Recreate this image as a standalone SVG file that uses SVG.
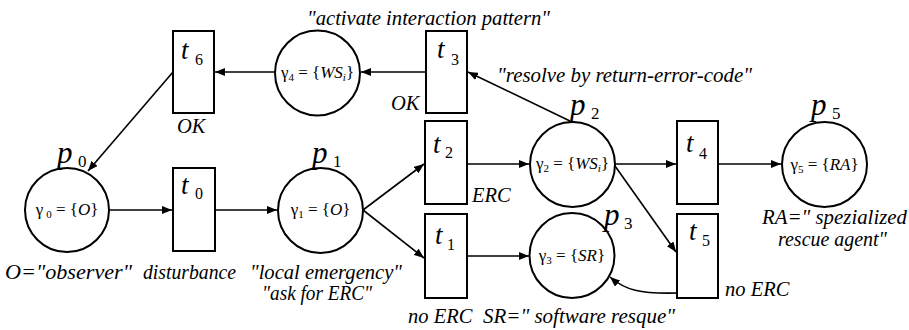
<svg xmlns="http://www.w3.org/2000/svg" width="909" height="330" viewBox="0 0 909 330">
<style>
.n{fill:#fff;stroke:#000;stroke-width:2}
.c line,.c path{stroke:#000;stroke-width:1.6;fill:none}
text{font-family:"Liberation Serif","Tinos","DejaVu Serif","Noto Serif",serif;fill:#000}
.lb{font-size:20.5px;font-style:italic}
.tl{font-size:27px;font-style:italic}
.ts{font-size:16px}
.pl{font-size:31px;font-style:italic}
.ps{font-size:17px}
.g{font-size:17px}
.gs{font-size:11px}
.i{font-style:italic}
</style>
<defs>
<marker id="ah" viewBox="0 0 10 8" refX="10" refY="4" markerWidth="10" markerHeight="8" markerUnits="userSpaceOnUse" orient="auto">
<path d="M0,0 L10,4 L0,8 Z" fill="#000"/>
</marker>
</defs>

<g class="c" id="connectors">
<line x1="426" y1="72" x2="361" y2="72" marker-end="url(#ah)"/>
<line x1="275" y1="72" x2="215" y2="72" marker-end="url(#ah)"/>
<line x1="173" y1="72" x2="88" y2="171" marker-end="url(#ah)"/>
<line x1="109" y1="210" x2="172" y2="210" marker-end="url(#ah)"/>
<line x1="215" y1="210" x2="277" y2="210" marker-end="url(#ah)"/>
<line x1="363" y1="210" x2="424" y2="164" marker-end="url(#ah)"/>
<line x1="363" y1="210" x2="424" y2="258" marker-end="url(#ah)"/>
<line x1="467" y1="164" x2="529" y2="164" marker-end="url(#ah)"/>
<line x1="570" y1="121" x2="468" y2="72" marker-end="url(#ah)"/>
<line x1="615" y1="164" x2="676" y2="164" marker-end="url(#ah)"/>
<line x1="718" y1="164" x2="781" y2="164" marker-end="url(#ah)"/>
<line x1="467" y1="256" x2="529" y2="256" marker-end="url(#ah)"/>
<line x1="615" y1="166" x2="676" y2="252" marker-end="url(#ah)"/>
<path d="M677,293 C640,294 625,290 610,277" marker-end="url(#ah)"/>
</g>

<g id="p0">
<circle class="n" cx="67" cy="210" r="42"/>
<text class="g" x="67" y="215" text-anchor="middle">γ<tspan class="gs" dx="3" dy="3">0</tspan><tspan dy="-3"> = {</tspan><tspan class="i">O</tspan>}</text>
<text class="pl" x="57" y="163">p</text><text class="ps" x="78" y="167">0</text>
<text class="lb" x="5" y="279" textLength="127" lengthAdjust="spacingAndGlyphs">O="observer"</text>
</g>

<g id="t0">
<rect class="n" x="173" y="168" width="42" height="83"/>
<text class="tl" x="181" y="194">t</text><text class="ts" x="195" y="199">0</text>
<text class="lb" x="143" y="279" textLength="93" lengthAdjust="spacingAndGlyphs">disturbance</text>
</g>

<g id="p1">
<circle class="n" cx="320.5" cy="210.5" r="42.5"/>
<text class="g" x="320.5" y="215" text-anchor="middle">γ<tspan class="gs" dy="3">1</tspan><tspan dy="-3"> = {</tspan><tspan class="i">O</tspan>}</text>
<text class="pl" x="312" y="163">p</text><text class="ps" x="333" y="167">1</text>
<text class="lb" x="250" y="279" textLength="152" lengthAdjust="spacingAndGlyphs">"local emergency"</text>
<text class="lb" x="262" y="300" textLength="110" lengthAdjust="spacingAndGlyphs">"ask for ERC"</text>
</g>

<g id="t6">
<rect class="n" x="173" y="31" width="41" height="82"/>
<text class="tl" x="181" y="59">t</text><text class="ts" x="195" y="65">6</text>
<text class="lb" x="177" y="133">OK</text>
</g>

<g id="p4">
<circle class="n" cx="317.5" cy="73" r="42.5"/>
<text class="g" x="317.5" y="78" text-anchor="middle">γ<tspan class="gs" dy="3">4</tspan><tspan dy="-3"> = {</tspan><tspan class="i">WS</tspan><tspan class="gs i" dy="3">i</tspan><tspan dy="-3">}</tspan></text>
<text class="lb" x="307" y="25" textLength="243" lengthAdjust="spacingAndGlyphs">"activate interaction pattern"</text>
</g>

<g id="t3">
<rect class="n" x="426" y="31" width="41" height="82"/>
<text class="tl" x="437" y="58">t</text><text class="ts" x="451" y="65">3</text>
<text class="lb" x="391" y="110">OK</text>
</g>

<g id="t2">
<rect class="n" x="425" y="121" width="42" height="83"/>
<text class="tl" x="433" y="153">t</text><text class="ts" x="445" y="158">2</text>
<text class="lb" x="472" y="202">ERC</text>
</g>

<g id="t1">
<rect class="n" x="425" y="214" width="42" height="84"/>
<text class="tl" x="435" y="244">t</text><text class="ts" x="447" y="250">1</text>
<text class="lb" x="408" y="323">no ERC</text>
</g>

<g id="p2">
<circle class="n" cx="572.5" cy="164.5" r="42.5"/>
<text class="g" x="572.5" y="169" text-anchor="middle">γ<tspan class="gs" dy="3">2</tspan><tspan dy="-3"> = {</tspan><tspan class="i">WS</tspan><tspan class="gs i" dy="3">i</tspan><tspan dy="-3">}</tspan></text>
<text class="pl" x="570" y="115">p</text><text class="ps" x="591" y="119">2</text>
<text class="lb" x="497" y="82" textLength="255" lengthAdjust="spacingAndGlyphs">"resolve by return-error-code"</text>
</g>

<g id="p3">
<circle class="n" cx="572" cy="255.5" r="42.5"/>
<text class="g" x="572" y="261" text-anchor="middle">γ<tspan class="gs" dy="3">3</tspan><tspan dy="-3"> = {</tspan><tspan class="i">SR</tspan>}</text>
<text class="pl" x="604" y="225">p</text><text class="ps" x="624" y="229">3</text>
<text class="lb" x="483" y="323" textLength="192" lengthAdjust="spacingAndGlyphs">SR=" software resque"</text>
</g>

<g id="t4">
<rect class="n" x="677" y="121" width="41" height="83"/>
<text class="tl" x="686" y="152">t</text><text class="ts" x="699" y="159">4</text>
</g>

<g id="t5">
<rect class="n" x="677" y="214" width="41" height="84"/>
<text class="tl" x="689" y="240">t</text><text class="ts" x="702" y="246">5</text>
<text class="lb" x="725" y="296">no ERC</text>
</g>

<g id="p5">
<circle class="n" cx="824.5" cy="164.5" r="42.5"/>
<text class="g" x="824.5" y="170" text-anchor="middle">γ<tspan class="gs" dy="3">5</tspan><tspan dy="-3"> = {</tspan><tspan class="i">RA</tspan>}</text>
<text class="pl" x="811" y="115">p</text><text class="ps" x="832" y="119">5</text>
<text class="lb" x="762" y="224" textLength="145" lengthAdjust="spacingAndGlyphs">RA=" spezialized</text>
<text class="lb" x="778" y="246" textLength="109" lengthAdjust="spacingAndGlyphs">rescue agent"</text>
</g>
</svg>
